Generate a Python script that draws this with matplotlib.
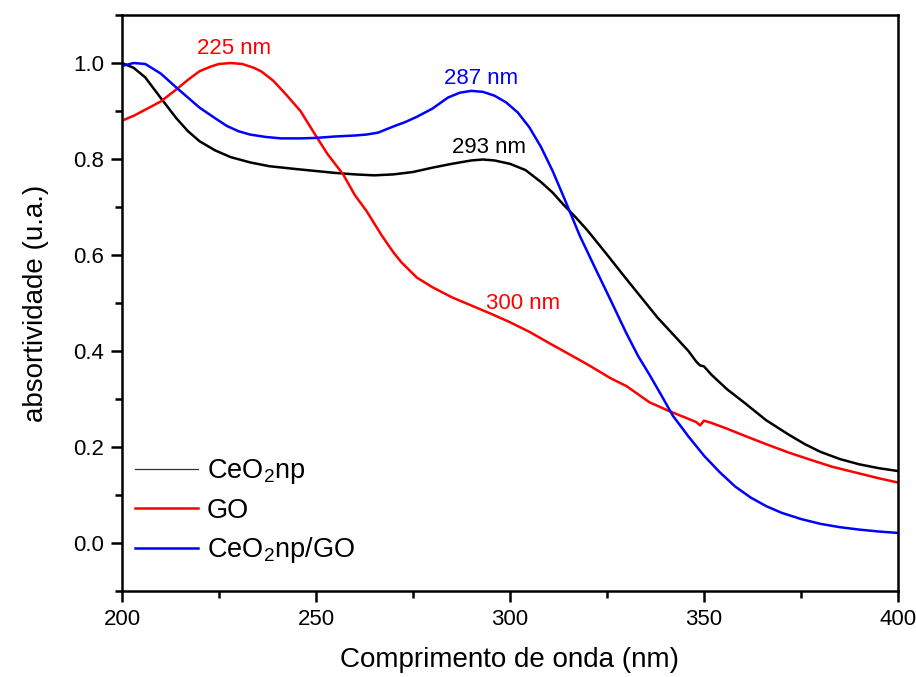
import matplotlib
matplotlib.use("Agg")
import matplotlib.pyplot as plt
from matplotlib.ticker import MultipleLocator
from matplotlib.lines import Line2D

plt.rcParams['font.family'] = ['Liberation Sans', 'DejaVu Sans']
plt.rcParams['mathtext.fontset'] = 'custom'
plt.rcParams['mathtext.rm'] = 'Liberation Sans'
plt.rcParams['mathtext.it'] = 'Liberation Sans:italic'
plt.rcParams['mathtext.bf'] = 'Liberation Sans:bold'

# CeO2np (black)
x_ceo2 = [200, 203, 206, 210, 214, 217, 220, 224, 228, 233, 238, 245, 250, 255, 260, 265,
          270, 275, 280, 285, 290, 293, 296, 300, 304, 308, 311, 314, 317, 320, 325, 330,
          334, 338, 342, 346, 348, 349, 350, 352, 356, 360, 366, 372, 376, 380, 385, 390, 395, 400]
y_ceo2 = [1.000, 0.990, 0.970, 0.927, 0.885, 0.858, 0.837, 0.818, 0.804, 0.793, 0.785, 0.779,
          0.775, 0.771, 0.768, 0.766, 0.768, 0.773, 0.782, 0.790, 0.797, 0.799, 0.797, 0.790,
          0.777, 0.752, 0.730, 0.703, 0.678, 0.651, 0.601, 0.550, 0.510, 0.470, 0.435, 0.400,
          0.378, 0.370, 0.368, 0.350, 0.320, 0.295, 0.256, 0.225, 0.206, 0.190, 0.175, 0.164,
          0.156, 0.150]

# GO (red)
x_go = [200, 203, 207, 210, 214, 217, 220, 223, 225, 228, 231, 234, 236, 239, 242, 246, 250, 253,
        257, 260, 263, 267, 270, 272, 276, 280, 285, 290, 295, 300, 305, 310, 316, 320, 326,
        330, 336, 341, 345, 348, 349, 350, 352, 356, 360, 366, 372, 378, 383, 390, 395, 400]
y_go = [0.880, 0.890, 0.907, 0.920, 0.945, 0.965, 0.983, 0.993, 0.998, 1.000, 0.998, 0.990,
        0.982, 0.963, 0.937, 0.900, 0.848, 0.810, 0.768, 0.725, 0.692, 0.640, 0.605, 0.585,
        0.553, 0.533, 0.512, 0.495, 0.478, 0.460, 0.440, 0.417, 0.390, 0.372, 0.343, 0.327,
        0.293, 0.275, 0.262, 0.252, 0.245, 0.255, 0.250, 0.238, 0.225, 0.206, 0.188, 0.172,
        0.159, 0.145, 0.135, 0.126]

# CeO2np/GO (blue)
x_comp = [200, 203, 206, 210, 214, 217, 220, 224, 227, 230, 233, 237, 241, 246, 250, 255, 260,
          263, 266, 270, 273, 276, 280, 284, 287, 290, 293, 296, 299, 302, 305, 308, 311, 314,
          318, 322, 326, 330, 333, 336, 339, 342, 346, 350, 354, 358, 362, 366, 370, 375, 380,
          385, 390, 395, 400]
y_comp = [0.994, 1.000, 0.998, 0.978, 0.949, 0.928, 0.907, 0.885, 0.869, 0.858, 0.851, 0.846,
          0.843, 0.843, 0.844, 0.847, 0.849, 0.851, 0.855, 0.868, 0.877, 0.888, 0.905, 0.928,
          0.938, 0.942, 0.940, 0.932, 0.918, 0.897, 0.866, 0.825, 0.775, 0.718, 0.640, 0.572,
          0.505, 0.437, 0.390, 0.350, 0.308, 0.265, 0.222, 0.182, 0.148, 0.118, 0.095, 0.077,
          0.063, 0.050, 0.040, 0.033, 0.028, 0.024, 0.021]

labels = ["CeO$_2$np", "GO", "CeO$_2$np/GO"]
colors = ["#000000", "#ff0000", "#0000ff"]

fig = plt.figure(figsize=(9.16, 6.77), dpi=100)
ax = fig.add_axes([0.1332, 0.127, 0.9803 - 0.1332, 0.9778 - 0.127])

lw = 1.8
ax.plot(x_ceo2, y_ceo2, color=colors[0], lw=lw)
ax.plot(x_go, y_go, color=colors[1], lw=lw)
ax.plot(x_comp, y_comp, color=colors[2], lw=lw)

ax.set_xlim(200, 400)
ax.set_ylim(-0.1, 1.1)
ax.xaxis.set_major_locator(MultipleLocator(50))
ax.xaxis.set_minor_locator(MultipleLocator(25))
ax.yaxis.set_minor_locator(MultipleLocator(0.1))
ax.set_yticks([0.0, 0.2, 0.4, 0.6, 0.8, 1.0])
ax.set_yticklabels(["0.0", "0.2", "0.4", "0.6", "0.8", "1.0"])

for s in ax.spines.values():
    s.set_linewidth(1.8)
ax.tick_params(which='major', direction='out', length=8, width=1.8, labelsize=16, pad=5)
ax.tick_params(which='minor', direction='out', length=5, width=1.8)
ax.tick_params(top=False, right=False, which='both')

ax.set_xlabel("Comprimento de onda (nm)", fontsize=20, labelpad=12)
ax.set_ylabel("absortividade (u.a.)", fontsize=20, labelpad=17)

ax.text(229.0, 1.031, "225 nm", color=colors[1], fontsize=16, ha='center', va='center')
ax.text(292.5, 0.967, "287 nm", color=colors[2], fontsize=16, ha='center', va='center')
ax.text(294.5, 0.823, "293 nm", color=colors[0], fontsize=16, ha='center', va='center')
ax.text(303.5, 0.50, "300 nm", color=colors[1], fontsize=16, ha='center', va='center')

handles = [Line2D([], [], color="#333333", lw=0.9),
           Line2D([], [], color=colors[1], lw=lw),
           Line2D([], [], color=colors[2], lw=lw)]
ax.legend(handles, labels, loc='lower left', bbox_to_anchor=(-0.008, 0.012), frameon=False,
          fontsize=19.5, handlelength=2.35, handletextpad=0.3, labelspacing=0.42,
          borderaxespad=0.3)

fig.savefig("out.png", dpi=100)
